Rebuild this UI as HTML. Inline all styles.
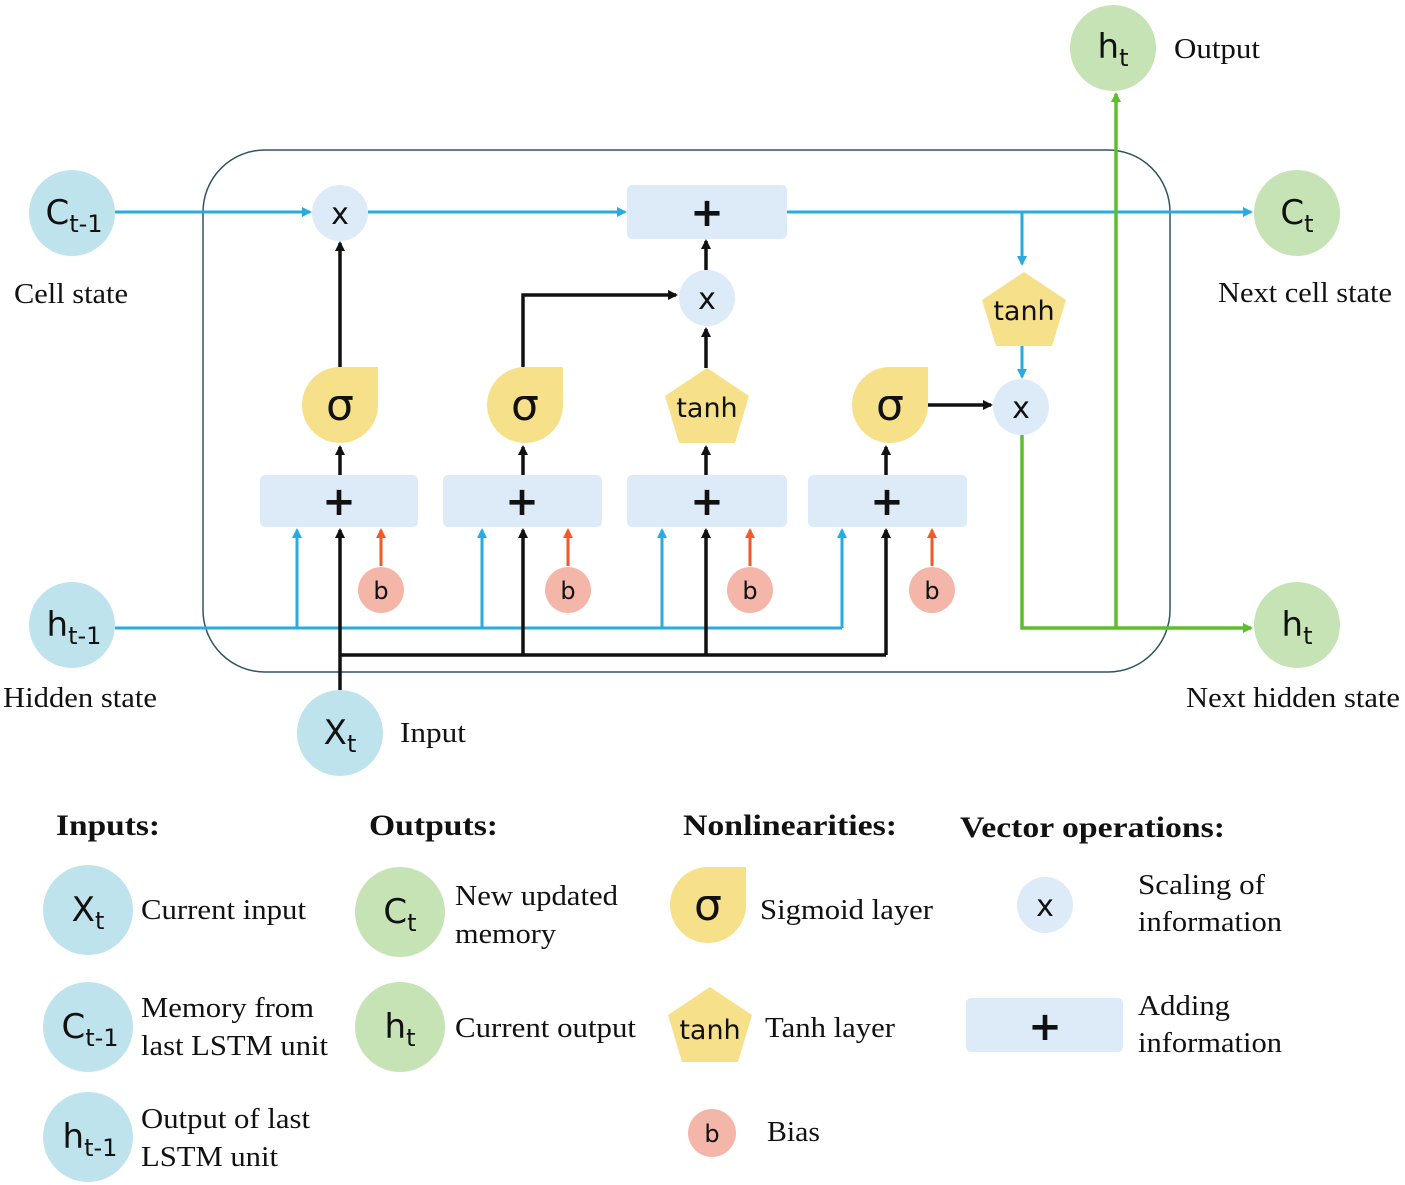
<!DOCTYPE html>
<html><head><meta charset="utf-8"><style>
html,body{margin:0;padding:0;background:#fff}
svg{display:block}
.s{font-family:"Liberation Serif",serif;font-size:29px;fill:#111}
.h{font-family:"Liberation Serif",serif;font-size:30px;font-weight:bold;fill:#111}
.n{font-family:"DejaVu Sans","Liberation Sans",sans-serif;fill:#111}
</style></head><body>
<svg width="1405" height="1185" viewBox="0 0 1405 1185" xmlns="http://www.w3.org/2000/svg">
<defs>
<marker id="ab" markerWidth="10" markerHeight="10" refX="8" refY="5" orient="auto" markerUnits="userSpaceOnUse"><path d="M0,0 L10,5 L0,10 Z" fill="#29abe2"/></marker>
<marker id="ak" markerWidth="10" markerHeight="10" refX="8" refY="5" orient="auto" markerUnits="userSpaceOnUse"><path d="M0,0 L10,5 L0,10 Z" fill="#111"/></marker>
<marker id="ao" markerWidth="10" markerHeight="10" refX="8" refY="5" orient="auto" markerUnits="userSpaceOnUse"><path d="M0,0 L10,5 L0,10 Z" fill="#f05a28"/></marker>
<marker id="ag" markerWidth="10" markerHeight="10" refX="8" refY="5" orient="auto" markerUnits="userSpaceOnUse"><path d="M0,0 L10,5 L0,10 Z" fill="#5cbf2a"/></marker>
</defs>

<rect x="203" y="150" width="967" height="522" rx="62" fill="none" stroke="#2f5563" stroke-width="1.5"/>

<g stroke="#29abe2" stroke-width="3" fill="none">
<line x1="115" y1="212" x2="310" y2="212" marker-end="url(#ab)"/>
<line x1="368" y1="212" x2="625" y2="212" marker-end="url(#ab)"/>
<line x1="787" y1="212" x2="1251" y2="212" marker-end="url(#ab)"/>
<line x1="1022" y1="212" x2="1022" y2="264" marker-end="url(#ab)"/>
<line x1="1022" y1="345" x2="1022" y2="377" marker-end="url(#ab)"/>
<line x1="115" y1="628" x2="842" y2="628"/>
<line x1="297" y1="628" x2="297" y2="530" marker-end="url(#ab)"/>
<line x1="482" y1="628" x2="482" y2="530" marker-end="url(#ab)"/>
<line x1="662" y1="628" x2="662" y2="530" marker-end="url(#ab)"/>
<line x1="842" y1="628" x2="842" y2="530" marker-end="url(#ab)"/>
</g>
<g stroke="#f05a28" stroke-width="3">
<line x1="381" y1="566" x2="381" y2="530" marker-end="url(#ao)"/>
<line x1="568" y1="566" x2="568" y2="530" marker-end="url(#ao)"/>
<line x1="750" y1="566" x2="750" y2="530" marker-end="url(#ao)"/>
<line x1="932" y1="566" x2="932" y2="530" marker-end="url(#ao)"/>
</g>
<g stroke="#111" stroke-width="3.5" fill="none">
<line x1="340" y1="690" x2="340" y2="530" marker-end="url(#ak)"/>
<line x1="340" y1="655" x2="886" y2="655"/>
<line x1="523" y1="655" x2="523" y2="530" marker-end="url(#ak)"/>
<line x1="706" y1="655" x2="706" y2="530" marker-end="url(#ak)"/>
<line x1="886" y1="655" x2="886" y2="530" marker-end="url(#ak)"/>
<line x1="340" y1="475" x2="340" y2="447" marker-end="url(#ak)"/>
<line x1="523" y1="475" x2="523" y2="447" marker-end="url(#ak)"/>
<line x1="706" y1="475" x2="706" y2="447" marker-end="url(#ak)"/>
<line x1="886" y1="475" x2="886" y2="447" marker-end="url(#ak)"/>
<line x1="340" y1="367" x2="340" y2="243" marker-end="url(#ak)"/>
<polyline points="523,367 523,295 676,295" marker-end="url(#ak)"/>
<line x1="706" y1="368" x2="706" y2="329" marker-end="url(#ak)"/>
<line x1="706" y1="270" x2="706" y2="241" marker-end="url(#ak)"/>
<line x1="928" y1="405" x2="991" y2="405" marker-end="url(#ak)"/>
</g>
<g stroke="#5cbf2a" stroke-width="3.5" fill="none">
<polyline points="1022,435 1022,628 1251,628" marker-end="url(#ag)"/>
<line x1="1116" y1="628" x2="1116" y2="94" marker-end="url(#ag)"/>
</g>

<g fill="#dcebf7">
<rect x="627" y="185" width="160" height="54" rx="5"/>
<rect x="260" y="475" width="158" height="52" rx="5"/>
<rect x="443" y="475" width="159" height="52" rx="5"/>
<rect x="627" y="475" width="160" height="52" rx="5"/>
<rect x="808" y="475" width="159" height="52" rx="5"/>
<rect x="966" y="998" width="157" height="54" rx="5"/>
</g>
<g class="n" font-size="40" font-weight="bold" text-anchor="middle">
<text x="707" y="226">+</text>
<text x="339" y="515">+</text>
<text x="522" y="515">+</text>
<text x="707" y="515">+</text>
<text x="887" y="515">+</text>
<text x="1045" y="1040">+</text>
</g>

<g fill="#dcebf7">
<circle cx="340" cy="213" r="28"/>
<circle cx="707" cy="298" r="28"/>
<circle cx="1021" cy="407" r="28"/>
<circle cx="1045" cy="905" r="28"/>
</g>
<g class="n" font-size="30" text-anchor="middle">
<text x="340" y="224">x</text>
<text x="707" y="309">x</text>
<text x="1021" y="418">x</text>
<text x="1045" y="916">x</text>
</g>

<g fill="#f7e08a">
<path d="M340,367 L378,367 L378,405 A38,38 0 1 1 340,367 Z"/>
<path d="M525,367 L563,367 L563,405 A38,38 0 1 1 525,367 Z"/>
<path d="M890,367 L928,367 L928,405 A38,38 0 1 1 890,367 Z"/>
<path d="M708,867 L746,867 L746,905 A38,38 0 1 1 708,867 Z"/>
</g>
<g class="n" font-size="44" text-anchor="middle">
<text x="340" y="420">σ</text>
<text x="525" y="420">σ</text>
<text x="890" y="420">σ</text>
<text x="708" y="920">σ</text>
</g>
<g fill="#f7e08a">
<polygon points="707,368 749,396 735,443 679,443 665,396"/>
<polygon points="1024,272 1066,300 1052,346 996,346 982,300"/>
<polygon points="710,987 752,1015 738,1062 682,1062 668,1015"/>
</g>
<g class="n" font-size="27" text-anchor="middle">
<text x="707" y="417">tanh</text>
<text x="1024" y="320">tanh</text>
<text x="710" y="1039">tanh</text>
</g>

<g fill="#f4b6a8">
<circle cx="381" cy="590" r="23"/><circle cx="568" cy="590" r="23"/>
<circle cx="750" cy="590" r="23"/><circle cx="932" cy="590" r="23"/>
<circle cx="712" cy="1133" r="24"/>
</g>
<g class="n" font-size="24" text-anchor="middle">
<text x="381" y="599">b</text><text x="568" y="599">b</text>
<text x="750" y="599">b</text><text x="932" y="599">b</text>
<text x="712" y="1142">b</text>
</g>

<g fill="#bfe3ec">
<circle cx="72" cy="213" r="43"/>
<circle cx="72" cy="625" r="43"/>
<circle cx="340" cy="733" r="43"/>
<circle cx="88" cy="910" r="45"/>
<circle cx="88" cy="1027" r="45"/>
<circle cx="88" cy="1137" r="45"/>
</g>
<g fill="#c6e3b5">
<circle cx="1297" cy="213" r="43"/>
<circle cx="1113" cy="48" r="43"/>
<circle cx="1297" cy="625" r="43"/>
<circle cx="400" cy="912" r="45"/>
<circle cx="400" cy="1027" r="45"/>
</g>
<g class="n" font-size="34" text-anchor="middle">
<text x="74" y="224">C<tspan font-size="24" dy="8">t-1</tspan></text>
<text x="74" y="636">h<tspan font-size="24" dy="8">t-1</tspan></text>
<text x="340" y="744">X<tspan font-size="24" dy="8">t</tspan></text>
<text x="1297" y="224">C<tspan font-size="24" dy="8">t</tspan></text>
<text x="1113" y="58">h<tspan font-size="24" dy="8">t</tspan></text>
<text x="1297" y="636">h<tspan font-size="24" dy="8">t</tspan></text>
<text x="88" y="921">X<tspan font-size="24" dy="8">t</tspan></text>
<text x="90" y="1038">C<tspan font-size="24" dy="8">t-1</tspan></text>
<text x="90" y="1148">h<tspan font-size="24" dy="8">t-1</tspan></text>
<text x="400" y="923">C<tspan font-size="24" dy="8">t</tspan></text>
<text x="400" y="1038">h<tspan font-size="24" dy="8">t</tspan></text>
</g>

<g class="s" lengthAdjust="spacingAndGlyphs">
<text x="14" y="303" textLength="114" lengthAdjust="spacingAndGlyphs">Cell state</text>
<text x="3" y="707" textLength="154" lengthAdjust="spacingAndGlyphs">Hidden state</text>
<text x="400" y="742" textLength="66" lengthAdjust="spacingAndGlyphs">Input</text>
<text x="1174" y="58" textLength="86" lengthAdjust="spacingAndGlyphs">Output</text>
<text x="1218" y="302" textLength="174" lengthAdjust="spacingAndGlyphs">Next cell state</text>
<text x="1186" y="707" textLength="214" lengthAdjust="spacingAndGlyphs">Next hidden state</text>
<text x="141" y="919" textLength="165" lengthAdjust="spacingAndGlyphs">Current input</text>
<text x="141" y="1017" textLength="173" lengthAdjust="spacingAndGlyphs">Memory from</text>
<text x="141" y="1055" textLength="187" lengthAdjust="spacingAndGlyphs">last LSTM unit</text>
<text x="141" y="1128" textLength="169" lengthAdjust="spacingAndGlyphs">Output of last</text>
<text x="141" y="1166" textLength="137" lengthAdjust="spacingAndGlyphs">LSTM unit</text>
<text x="455" y="905" textLength="163" lengthAdjust="spacingAndGlyphs">New updated</text>
<text x="455" y="943" textLength="101" lengthAdjust="spacingAndGlyphs">memory</text>
<text x="455" y="1037" textLength="181" lengthAdjust="spacingAndGlyphs">Current output</text>
<text x="760" y="919" textLength="173" lengthAdjust="spacingAndGlyphs">Sigmoid layer</text>
<text x="765" y="1037" textLength="130" lengthAdjust="spacingAndGlyphs">Tanh layer</text>
<text x="767" y="1141" textLength="53" lengthAdjust="spacingAndGlyphs">Bias</text>
<text x="1138" y="894" textLength="127" lengthAdjust="spacingAndGlyphs">Scaling of</text>
<text x="1138" y="931" textLength="144" lengthAdjust="spacingAndGlyphs">information</text>
<text x="1138" y="1015" textLength="92" lengthAdjust="spacingAndGlyphs">Adding</text>
<text x="1138" y="1052" textLength="144" lengthAdjust="spacingAndGlyphs">information</text>
</g>
<g class="h">
<text x="56" y="835" textLength="104" lengthAdjust="spacingAndGlyphs">Inputs:</text>
<text x="369" y="835" textLength="129" lengthAdjust="spacingAndGlyphs">Outputs:</text>
<text x="683" y="835" textLength="214" lengthAdjust="spacingAndGlyphs">Nonlinearities:</text>
<text x="960" y="837" textLength="265" lengthAdjust="spacingAndGlyphs">Vector operations:</text>
</g>
</svg>
</body></html>
